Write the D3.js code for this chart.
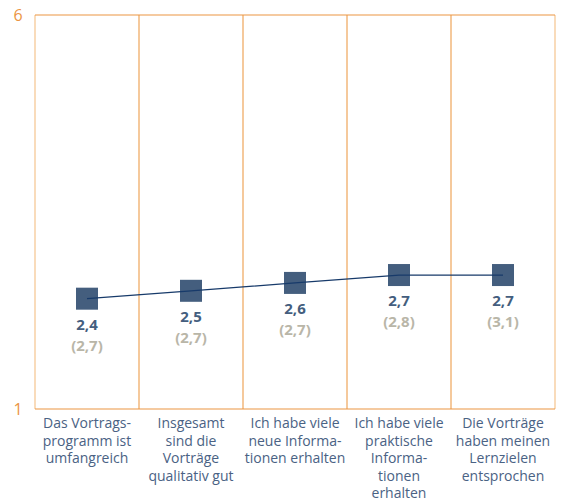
<!DOCTYPE html>
<html>
<head>
<meta charset="utf-8">
<script src="https://cdn.jsdelivr.net/npm/d3@7"></script>
<style>
  body { margin: 0; background: #fff; }
  svg { display: block; font-family: 'Open Sans', sans-serif; }
</style>
</head>
<body>
<script>
'use strict';

// categories (label lines)
const categories = [
  ['Das Vortrags-', 'programm ist', 'umfangreich'],
  ['Insgesamt', 'sind die', 'Vorträge', 'qualitativ gut'],
  ['Ich habe viele', 'neue Informa-', 'tionen erhalten'],
  ['Ich habe viele', 'praktische', 'Informa-', 'tionen', 'erhalten'],
  ['Die Vorträge', 'haben meinen', 'Lernzielen', 'entsprochen']
];
const values = [2.4, 2.5, 2.6, 2.7, 2.7];
const compare = [2.7, 2.7, 2.7, 2.8, 3.1];
const yTicks = [1, 6];

const W = 565, H = 501;
const margin = {top: 15, right: 10, bottom: 92, left: 35};

const fmt = v => d3.format('.1f')(v).replace('.', ',');
const idx = d3.range(categories.length);

const x = d3.scaleBand().domain(idx).range([margin.left, W - margin.right]);
const y = d3.scaleLinear().domain([1, 6]).range([H - margin.bottom, margin.top]);

const svg = d3.select('body').append('svg')
    .attr('width', W)
    .attr('height', H);

const orange = '#eb9543';

// column separators
svg.append('g').selectAll('line')
    .data(idx.concat([categories.length]))
  .join('line')
    .attr('x1', i => i < categories.length ? x(i) : x.range()[1])
    .attr('x2', i => i < categories.length ? x(i) : x.range()[1])
    .attr('y1', y(6))
    .attr('y2', y(1))
    .attr('stroke', (i) => (i === 0 || i === categories.length) ? '#f5c48e' : '#efa55a')
    .attr('stroke-width', 1.2);

// top and bottom frame
svg.append('g').selectAll('line')
    .data(yTicks)
  .join('line')
    .attr('x1', margin.left)
    .attr('x2', W - margin.right)
    .attr('y1', d => y(d))
    .attr('y2', d => y(d))
    .attr('stroke', orange)
    .attr('stroke-width', 1.2);

// y tick labels
svg.append('g').selectAll('text')
    .data(yTicks)
  .join('text')
    .attr('x', 18)
    .attr('y', d => y(d))
    .attr('dy', '0.35em')
    .attr('text-anchor', 'middle')
    .attr('fill', orange)
    .style('font-size', '16px')
    .text(d => d);

const cx = i => x(i) + x.bandwidth() / 2;

// markers
const sz = 22;
svg.append('g').selectAll('rect')
    .data(values)
  .join('rect')
    .attr('x', (d, i) => cx(i) - sz / 2)
    .attr('y', d => y(d) - sz / 2)
    .attr('width', sz)
    .attr('height', sz)
    .attr('fill', '#445e7e');

// connecting line
svg.append('path')
    .datum(values)
    .attr('fill', 'none')
    .attr('stroke', '#173a6a')
    .attr('stroke-width', 1.2)
    .attr('d', d3.line().x((d, i) => cx(i)).y(d => y(d)));

// value labels
svg.append('g').selectAll('text')
    .data(values)
  .join('text')
    .attr('x', (d, i) => cx(i))
    .attr('y', d => y(d) + 31)
    .attr('text-anchor', 'middle')
    .attr('fill', '#445e7e')
    .style('font-size', '15px')
    .style('font-weight', 'bold')
    .text(d => fmt(d));

svg.append('g').selectAll('text')
    .data(compare)
  .join('text')
    .attr('x', (d, i) => cx(i))
    .attr('y', (d, i) => y(values[i]) + 52)
    .attr('text-anchor', 'middle')
    .attr('fill', '#b9b6a8')
    .style('font-size', '15px')
    .style('font-weight', 'bold')
    .text(d => '(' + fmt(d) + ')');

// category labels
const cat = svg.append('g').selectAll('text')
    .data(categories)
  .join('text')
    .attr('x', (d, i) => cx(i))
    .attr('y', y(1) + 19)
    .attr('text-anchor', 'middle')
    .attr('fill', '#4a6284')
    .style('font-size', '14px');

cat.selectAll('tspan')
    .data(d => d)
  .join('tspan')
    .attr('x', function() { return this.parentNode.getAttribute('x'); })
    .attr('dy', (d, j) => j === 0 ? 0 : 17.5)
    .text(d => d);
</script>
</body>
</html>
